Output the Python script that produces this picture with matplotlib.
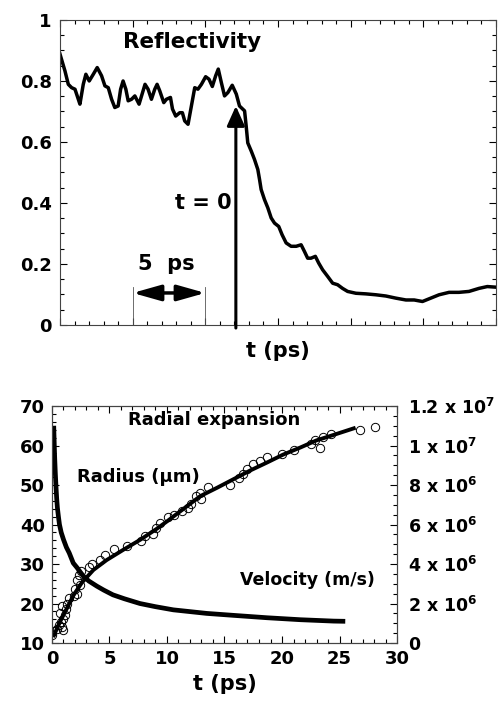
import numpy as np
import matplotlib
matplotlib.use("Agg")
import matplotlib.pyplot as plt
from matplotlib.ticker import MultipleLocator, FixedLocator, FixedFormatter

plt.rcParams['font.family'] = ['DejaVu Sans']
plt.rcParams['font.weight'] = 'bold'
plt.rcParams['axes.labelweight'] = 'bold'
plt.rcParams['mathtext.fontset'] = 'dejavusans'
plt.rcParams['mathtext.default'] = 'bf'

# ---- top panel: reflectivity vs scan time (ps from left edge of window)
refl_t = [0, .34, .57, .80, 1.03, 1.26, 1.37, 1.60, 1.78, 2.01,
          2.29, 2.56, 2.86, 3.09, 3.32, 3.55, 3.77, 4.00, 4.17, 4.34,
          4.53, 4.69, 4.92, 5.15, 5.44, 5.68, 5.85, 6.06, 6.29, 6.52,
          6.68, 6.86, 7.14, 7.32, 7.60, 7.74, 7.96, 8.24, 8.42, 8.58,
          8.81, 9.04, 9.27, 9.49, 9.73, 10.02, 10.25, 10.48, 10.71, 10.89,
          11.10, 11.32, 11.55, 11.85, 12.13, 12.35, 12.70, 12.81, 12.92, 13.16,
          13.38, 13.61, 13.73, 13.84, 14.07, 14.30, 14.53, 14.76, 15.05, 15.28,
          15.56, 15.90, 16.25, 16.59, 16.82, 17.04, 17.27, 17.57, 17.80, 18.07,
          18.42, 18.76, 19.10, 19.44, 19.79, 20.36, 21.05, 21.74, 22.42, 23.11,
          23.80, 24.37, 24.94, 25.51, 26.08, 26.77, 27.45, 28.14, 28.83, 29.40, 29.97]
refl = [.888, .833, .789, .778, .773, .740, .724, .789, .822, .800,
        .822, .844, .817, .784, .778, .740, .713, .718, .773, .800,
        .773, .735, .740, .751, .724, .762, .789, .773, .740, .773,
        .789, .768, .729, .740, .746, .708, .685, .696, .696, .669,
        .658, .718, .778, .773, .789, .814, .806, .782, .817, .839,
        .795, .751, .762, .786, .757, .718, .702, .652, .597, .570,
        .543, .510, .477, .444, .411, .384, .351, .334, .323, .296,
        .269, .258, .258, .263, .241, .219, .219, .225, .203, .181,
        .159, .137, .132, .120, .110, .104, .102, .099, .095, .088,
        .082, .082, .077, .088, .099, .107, .107, .110, .120, .126, .124]
t_zero = 12.1          # position of t = 0 in the scan window
scale_bar = [5, 10]    # 5 ps marker
refl_yticks = [0, 0.2, 0.4, 0.6, 0.8, 1.0]
refl_ylabels = ['0', '0.2', '0.4', '0.6', '0.8', '1']

# ---- bottom panel: radius data, fit and velocity
rad_t = [0.0, 0.45, 0.6, 0.75, 0.9, 0.95, 1.0, 1.1, 1.2, 0.7, 0.85, 1.3, 1.45,
         1.9, 2.0, 2.2, 2.15, 2.4, 2.35, 2.5, 3.2, 3.5, 4.2, 4.65, 5.4, 6.5,
         7.7, 8.05, 8.8, 9.05, 9.35, 10.1, 10.6, 11.3, 11.8, 12.1, 12.5, 12.9,
         13.0, 13.6, 15.5, 16.3, 16.6, 17.0, 17.5, 18.1, 18.7, 20.0, 21.0,
         22.5, 22.9, 23.3, 23.6, 24.3, 26.8, 28.1]
rad_r = [12.0, 13.6, 14.5, 15.3, 14.0, 13.2, 16.0, 17.0, 18.5, 17.5, 19.5, 19.8, 21.4,
         22.0, 23.6, 22.5, 25.9, 24.8, 27.2, 28.3, 29.3, 30.1, 30.9, 32.2, 33.7, 34.6,
         35.8, 37.0, 37.6, 39.2, 40.5, 41.8, 42.3, 43.5, 44.3, 45.3, 47.3, 47.9,
         46.4, 49.5, 50.0, 51.8, 52.8, 54.0, 55.2, 56.2, 57.1, 57.9, 58.8,
         60.4, 61.3, 59.3, 62.2, 63.0, 63.9, 64.6]
fit_t = [0.1, 0.7, 1.3, 1.85, 2.6, 3.6, 4.75, 6.2, 7.65, 9.1, 10.0, 11.45, 12.9,
         14.35, 15.8, 17.25, 18.7, 20.1, 21.6, 23.0, 24.5, 26.4]
fit_r = [11.5, 15.4, 18.8, 22.0, 25.3, 28.5, 31.0, 33.6, 36.1, 38.9, 40.8, 44.0, 47.2,
         49.3, 51.5, 53.7, 55.7, 57.7, 59.5, 61.3, 62.7, 64.5]
vel_t = [0.15, 0.17, 0.2, 0.24, 0.29, 0.35, 0.41, 0.47, 0.56, 0.65, 0.8, 1.0, 1.25,
         1.5, 1.85, 2.2, 2.7, 3.2, 3.9, 4.5, 5.3, 6.3, 7.65, 9.0, 10.55, 13.45,
         15.8, 18.7, 21.6, 24.5, 25.5]
vel = [1.1e7, 1.06e7, 1.0e7, 9.3e6, 8.6e6, 7.9e6, 7.3e6, 6.85e6, 6.4e6, 6.0e6, 5.6e6,
       5.24e6, 4.85e6, 4.56e6, 4.05e6, 3.8e6, 3.4e6, 3.14e6, 2.88e6, 2.68e6, 2.44e6,
       2.24e6, 2.0e6, 1.84e6, 1.68e6, 1.5e6, 1.4e6, 1.28e6, 1.18e6, 1.11e6, 1.1e6]
vel_ticks = [0, 2e6, 4e6, 6e6, 8e6, 1e7, 1.2e7]
vel_labels = ['0', r'2 x 10$^6$', r'4 x 10$^6$', r'6 x 10$^6$', r'8 x 10$^6$',
              r'1 x 10$^7$', r'1.2 x 10$^7$']

fig = plt.figure(figsize=(4.98, 7.01), dpi=100)

# ================= top =================
ax = fig.add_axes([0.1205, 0.5364, 0.8755, 0.4351])
ax.plot(refl_t, refl, color='k', lw=2.5, solid_joinstyle='round')
ax.set_xlim(0, 30)
ax.set_ylim(0, 1)
ax.xaxis.set_major_locator(MultipleLocator(5))
ax.xaxis.set_minor_locator(MultipleLocator(1))
ax.yaxis.set_major_locator(FixedLocator(refl_yticks))
ax.yaxis.set_major_formatter(FixedFormatter(refl_ylabels))
ax.yaxis.set_minor_locator(MultipleLocator(0.05))
ax.tick_params(which='both', direction='in', top=True, right=True, width=0.8)
ax.tick_params(which='major', length=5, labelsize=13, pad=6)
ax.tick_params(which='minor', length=3)
ax.tick_params(axis='x', labelbottom=False)
ax.set_xlabel('t (ps)', fontsize=15, labelpad=8)
for s in ax.spines.values():
    s.set_linewidth(0.8)
    s.set_color('#444444')

ax.text(9.1, 0.927, 'Reflectivity', fontsize=15.5, ha='center', va='center')
ax.annotate('', xy=(t_zero, 0.718), xytext=(t_zero, -0.01),
            arrowprops=dict(arrowstyle='-|>,head_length=0.6,head_width=0.27',
                            mutation_scale=20, lw=2.2, color='k',
                            shrinkA=0, shrinkB=0), annotation_clip=False)
ax.text(t_zero - 0.3, 0.40, 't = 0', fontsize=15, ha='right', va='center')
for xb in scale_bar:
    ax.plot([xb, xb], [0, 0.125], color='#555555', lw=0.6)
ax.annotate('', xy=(scale_bar[1], 0.105), xytext=(scale_bar[0], 0.105),
            arrowprops=dict(arrowstyle='<|-|>,head_length=0.85,head_width=0.24',
                            mutation_scale=20, lw=2.5, color='k',
                            shrinkA=0, shrinkB=0))
ax.text(7.3, 0.20, '5  ps', fontsize=15, ha='center', va='center')

# ================= bottom =================
bx = fig.add_axes([0.1044, 0.0827, 0.6928, 0.3381])
bx.plot(rad_t, rad_r, 'o', mfc='none', mec='k', ms=6, mew=0.7)
bx.plot(fit_t, fit_r, color='k', lw=2.8, solid_capstyle='butt')
bx.set_xlim(0, 30)
bx.set_ylim(10, 70)
bx.xaxis.set_major_locator(MultipleLocator(5))
bx.xaxis.set_minor_locator(MultipleLocator(1))
bx.yaxis.set_major_locator(MultipleLocator(10))
bx.yaxis.set_minor_locator(MultipleLocator(2))
bx.tick_params(which='both', direction='in', top=True, width=0.8)
bx.tick_params(which='major', length=5, labelsize=13, pad=5)
bx.tick_params(which='minor', length=3)
bx.set_xlabel('t (ps)', fontsize=15, labelpad=4)

bv = bx.twinx()
bv.plot(vel_t, vel, color='k', lw=3.4, solid_capstyle='butt')
bv.set_ylim(0, 1.2e7)
bv.yaxis.set_major_locator(FixedLocator(vel_ticks))
bv.yaxis.set_major_formatter(FixedFormatter(vel_labels))
bv.yaxis.set_minor_locator(MultipleLocator(5e5))
bv.tick_params(which='both', direction='in', width=0.8)
bv.tick_params(which='major', length=5, labelsize=12.5, pad=8)
bv.tick_params(which='minor', length=3)
for a in (bx, bv):
    for s in a.spines.values():
        s.set_linewidth(0.8)
        s.set_color('#444444')

bx.text(14.1, 66.5, 'Radial expansion', fontsize=13, ha='center', va='center')
bx.text(7.55, 52.1, u'Radius (\u03bcm)', fontsize=13, ha='center', va='center')
bx.text(22.2, 26.0, 'Velocity (m/s)', fontsize=12.5, ha='center', va='center')

fig.savefig('out.png', dpi=100)
